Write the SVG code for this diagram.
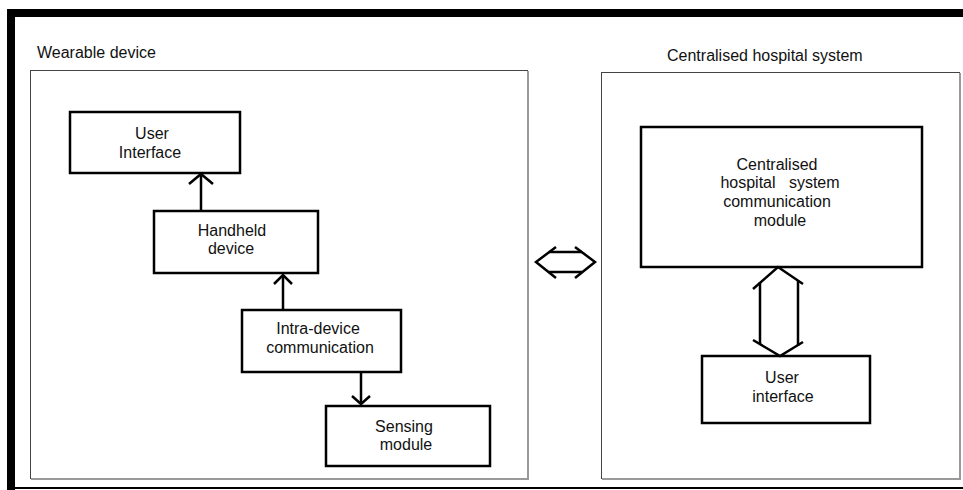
<svg xmlns="http://www.w3.org/2000/svg" width="963" height="490" viewBox="0 0 963 490">
<style>
  text { font-family: "Liberation Sans", Arial, sans-serif; font-size: 16px; fill: #111; }
  .node { fill: #fff; stroke: #000; stroke-width: 2.5; }
  .cont { fill: #fff; stroke: #444; stroke-width: 1; }
  .shadow { fill: none; stroke: #999; stroke-width: 2; }
  .conn { fill: none; stroke: #000; stroke-width: 2.5; stroke-linejoin: miter; }
</style>
<rect x="0" y="0" width="963" height="490" fill="#fff"/>
<!-- outer frame -->
<g id="frame">
  <rect x="7" y="9" width="956" height="8" fill="#000"/>
  <rect x="7" y="9" width="8" height="481" fill="#000"/>
  <rect x="15" y="487" width="948" height="2" fill="#000"/>
</g>
<!-- containers -->
<g id="wearable">
  <rect class="cont" x="30.5" y="70.5" width="497" height="408"/>
  <polyline class="shadow" points="528,71 528,479 31,479"/>
  <text x="37" y="58">Wearable device</text>
</g>
<g id="hospital">
  <rect class="cont" x="601.5" y="72.5" width="358" height="406"/>
  <polyline class="shadow" points="960,73 960,479 602,479"/>
  <text x="667" y="61">Centralised hospital system</text>
</g>
<!-- nodes -->
<g id="user-interface-left">
  <rect class="node" x="70" y="112" width="170" height="61"/>
  <text x="152" y="139" text-anchor="middle">User</text>
  <text x="150" y="158" text-anchor="middle">Interface</text>
</g>
<g id="handheld">
  <rect class="node" x="154" y="211" width="164" height="62"/>
  <text x="232" y="236" text-anchor="middle">Handheld</text>
  <text x="231" y="254" text-anchor="middle">device</text>
</g>
<g id="intra">
  <rect class="node" x="242" y="310" width="159" height="62"/>
  <text x="318" y="334" text-anchor="middle">Intra-device</text>
  <text x="320" y="353" text-anchor="middle">communication</text>
</g>
<g id="sensing">
  <rect class="node" x="326" y="406" width="164" height="60"/>
  <text x="404" y="432" text-anchor="middle">Sensing</text>
  <text x="406" y="450" text-anchor="middle">module</text>
</g>
<g id="chs-module">
  <rect class="node" x="641" y="127" width="281" height="140"/>
  <text x="777" y="170" text-anchor="middle">Centralised</text>
  <text x="780" y="188" text-anchor="middle" xml:space="preserve">hospital   system</text>
  <text x="777" y="207" text-anchor="middle">communication</text>
  <text x="780" y="226" text-anchor="middle">module</text>
</g>
<g id="user-interface-right">
  <rect class="node" x="702" y="356" width="168" height="67"/>
  <text x="782" y="383" text-anchor="middle">User</text>
  <text x="783" y="402" text-anchor="middle">interface</text>
</g>
<!-- connectors -->
<g id="connectors">
  <line class="conn" x1="201" y1="211" x2="201" y2="174"/>
  <polyline class="conn" points="189,184 201,174 213,184"/>
  <line class="conn" x1="283" y1="310" x2="283" y2="275"/>
  <polyline class="conn" points="274,284 283,275 292,284"/>
  <line class="conn" x1="361" y1="372" x2="361" y2="404"/>
  <polyline class="conn" points="352,396 361,404 370,396"/>
  <!-- horizontal double arrow -->
  <polyline class="conn" points="556,247 536,262 556,278"/>
  <polyline class="conn" points="575,247 595,262 575,278"/>
  <line class="conn" x1="549" y1="252" x2="582" y2="252"/>
  <line class="conn" x1="549" y1="272" x2="582" y2="272"/>
  <!-- vertical double arrow -->
  <polyline class="conn" points="753,289 778,267 803,284"/>
  <polyline class="conn" points="753,340 780,356 803,342"/>
  <line class="conn" x1="760" y1="282" x2="760" y2="344"/>
  <line class="conn" x1="798" y1="280" x2="798" y2="346"/>
</g>
</svg>
